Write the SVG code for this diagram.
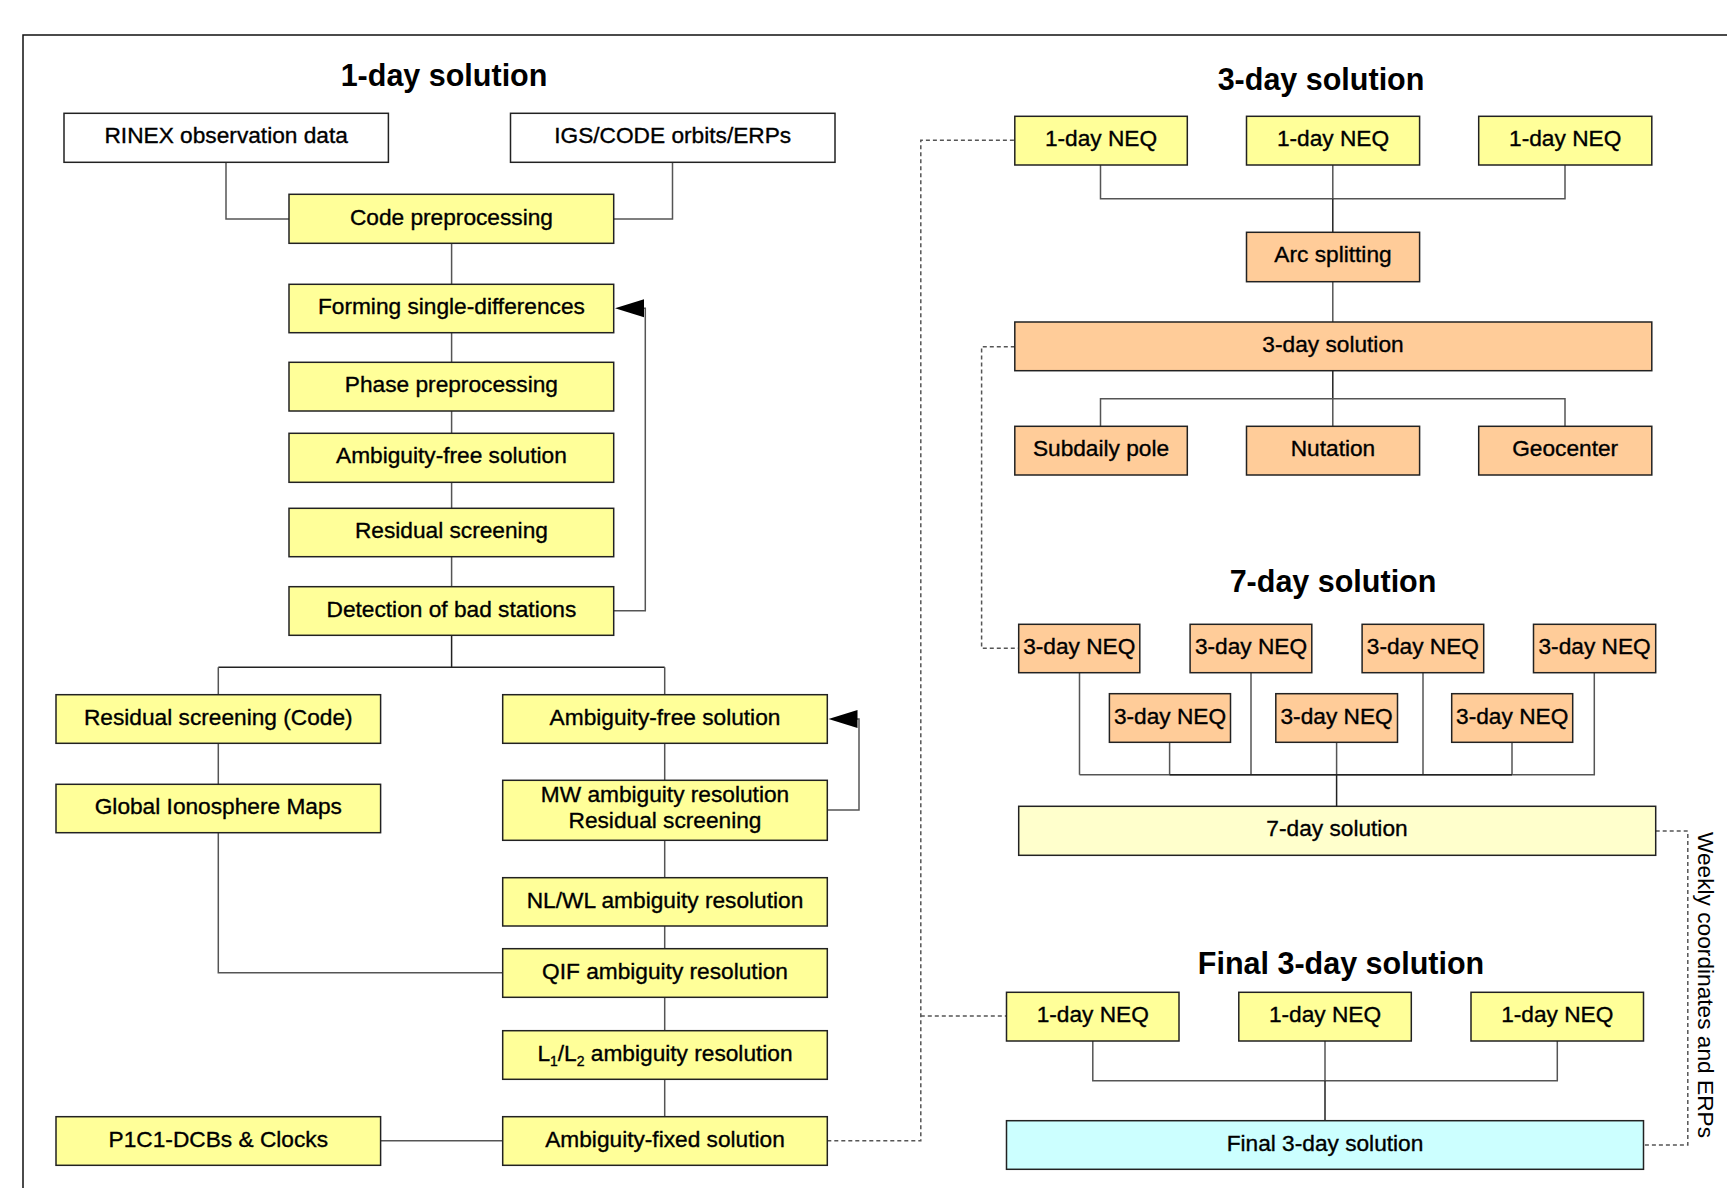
<svg xmlns="http://www.w3.org/2000/svg" width="1727" height="1188" viewBox="0 0 1727 1188">
<defs>
<style>
.y{fill:#FFFF99;stroke:#222;stroke-width:1.5}
.o{fill:#FFCC99;stroke:#222;stroke-width:1.5}
.w{fill:#FFFFFF;stroke:#222;stroke-width:1.5}
.ly{fill:#FFFFCC;stroke:#222;stroke-width:1.5}
.c{fill:#CCFFFF;stroke:#222;stroke-width:1.5}
text{font-family:"Liberation Sans",Arial,sans-serif;fill:#000}
.t{font-size:22.7px;text-anchor:middle;stroke:#000;stroke-width:0.35}
.v{font-size:22.7px;text-anchor:middle}
.h{font-size:30.5px;font-weight:bold;text-anchor:middle}
.ln{fill:none;stroke:#555;stroke-width:1.5}
.dk{fill:none;stroke:#222;stroke-width:1.5}
.dt{fill:none;stroke:#555;stroke-width:1.5;stroke-dasharray:4 3}
</style>
</defs>
<rect width="1727" height="1188" fill="#fff"/>
<path d="M23,1188 V35 H1727" fill="none" stroke="#111" stroke-width="1.5"/>

<text class="h" x="444" y="86">1-day solution</text>
<text class="h" x="1321" y="89.5">3-day solution</text>
<text class="h" x="1333" y="592">7-day solution</text>
<text class="h" x="1341" y="974">Final 3-day solution</text>

<g id="connectors">
<path class="ln" d="M226,162 V219 H289 M672.5,162 V219 H614"/>
<path class="ln" d="M451.6,243.3 V284.3 M451.6,332.7 V362.3 M451.6,411 V433.3 M451.6,482.3 V508.3 M451.6,556.7 V586.7"/>
<path class="dk" d="M451.6,635.3 V667.3 M218.3,667.3 H664.7"/>
<path class="ln" d="M218.3,667.3 V694.7 M664.7,667.3 V694.7"/>
<path class="ln" d="M614,610.7 H645.3 V308.3 H643"/>
<polygon points="615,308.3 644,299.3 644,317.3" fill="#000"/>
<path class="ln" d="M218.3,743.3 V784.3 M218.3,832.7 V972.7 H502.7 M380.6,1140.7 H502.7"/>
<path class="ln" d="M664.7,743.3 V780.3 M664.7,840.3 V877.7 M664.7,926 V948.7 M664.7,997.3 V1030.7 M664.7,1079.3 V1116.7"/>
<path class="ln" d="M827.3,810 H859 V719 H857"/>
<polygon points="828.5,719 857.5,710 857.5,728" fill="#000"/>
<path class="dt" d="M827.3,1140.7 H920.8 V140.3 H1014.8 M920.8,1016 H1006.5"/>
<path class="dt" d="M1014.8,346.7 H981.6 V648.3 H1018.7"/>
<path class="dt" d="M1655.7,831 H1687.8 V1145 H1643.5"/>
<path class="ln" d="M1100.5,165 V198.7 H1565 V165 M1332.8,165 V198.7"/>
<path class="dk" d="M1332.8,198.7 V232.3"/>
<path class="ln" d="M1332.8,281.7 V322"/>
<path class="dk" d="M1332.8,370.7 V398.7"/>
<path class="ln" d="M1100.5,426.3 V398.7 H1565 V426.3 M1332.8,398.7 V426.3"/>
<path class="ln" d="M1079.5,672.7 V774.7 M1251,672.7 V774.7 M1423,672.7 V774.7 M1594.3,672.7 V774.7 H1079.5 M1169.6,742.3 V774.7 M1336.6,742.3 V774.7 M1512,742.3 V774.7"/>
<path class="dk" d="M1169.6,774.7 H1512 M1336.6,774.7 V806.3"/>
<path class="ln" d="M1092.8,1041 V1080.7 H1557.3 V1041 M1325,1041 V1080.7"/>
<path class="dk" d="M1325,1080.7 V1120.7"/>
</g>

<g id="n-rinex"><rect class="w" x="64" y="113.3" width="324.4" height="49"/><text class="t" x="226.2" y="143">RINEX observation data</text></g>
<g id="n-igs"><rect class="w" x="510.5" y="113.3" width="324.5" height="49"/><text class="t" x="672.7" y="143">IGS/CODE orbits/ERPs</text></g>
<g id="n-code"><rect class="y" x="289" y="194.3" width="324.7" height="49"/><text class="t" x="451.4" y="224.5">Code preprocessing</text></g>
<g id="n-sd"><rect class="y" x="289" y="284.3" width="324.7" height="48.4"/><text class="t" x="451.4" y="314">Forming single-differences</text></g>
<g id="n-phase"><rect class="y" x="289" y="362.3" width="324.7" height="48.7"/><text class="t" x="451.4" y="392.2">Phase preprocessing</text></g>
<g id="n-af1"><rect class="y" x="289" y="433.3" width="324.7" height="49"/><text class="t" x="451.4" y="463.2">Ambiguity-free solution</text></g>
<g id="n-rs"><rect class="y" x="289" y="508.3" width="324.7" height="48.4"/><text class="t" x="451.4" y="538">Residual screening</text></g>
<g id="n-det"><rect class="y" x="289" y="586.7" width="324.7" height="48.6"/><text class="t" x="451.4" y="616.5">Detection of bad stations</text></g>
<g id="n-rsc"><rect class="y" x="56" y="694.7" width="324.6" height="48.6"/><text class="t" x="218.3" y="724.5">Residual screening (Code)</text></g>
<g id="n-gim"><rect class="y" x="56" y="784.3" width="324.6" height="48.4"/><text class="t" x="218.3" y="814">Global Ionosphere Maps</text></g>
<g id="n-p1c1"><rect class="y" x="56" y="1116.7" width="324.6" height="48.6"/><text class="t" x="218.3" y="1146.5">P1C1-DCBs &amp; Clocks</text></g>
<g id="n-af2"><rect class="y" x="502.7" y="694.7" width="324.6" height="48.6"/><text class="t" x="665" y="724.5">Ambiguity-free solution</text></g>
<g id="n-mw"><rect class="y" x="502.7" y="780.3" width="324.6" height="60"/><text class="t" x="665" y="802">MW ambiguity resolution</text><text class="t" x="665" y="827.5">Residual screening</text></g>
<g id="n-nlwl"><rect class="y" x="502.7" y="877.7" width="324.6" height="48.3"/><text class="t" x="665" y="907.5">NL/WL ambiguity resolution</text></g>
<g id="n-qif"><rect class="y" x="502.7" y="948.7" width="324.6" height="48.6"/><text class="t" x="665" y="978.5">QIF ambiguity resolution</text></g>
<g id="n-l1l2"><rect class="y" x="502.7" y="1030.7" width="324.6" height="48.6"/><text class="t" x="665" y="1060.5">L<tspan font-size="14" dy="5">1</tspan><tspan dy="-5">/L</tspan><tspan font-size="14" dy="5">2</tspan><tspan dy="-5"> ambiguity resolution</tspan></text></g>
<g id="n-afix"><rect class="y" x="502.7" y="1116.7" width="324.6" height="48.6"/><text class="t" x="665" y="1146.5">Ambiguity-fixed solution</text></g>

<g id="n-neq1a"><rect class="y" x="1014.8" y="116.3" width="172.5" height="48.7"/><text class="t" x="1101" y="146.2">1-day NEQ</text></g>
<g id="n-neq1b"><rect class="y" x="1246.5" y="116.3" width="173.1" height="48.7"/><text class="t" x="1333" y="146.2">1-day NEQ</text></g>
<g id="n-neq1c"><rect class="y" x="1478.7" y="116.3" width="173.1" height="48.7"/><text class="t" x="1565.2" y="146.2">1-day NEQ</text></g>
<g id="n-arc"><rect class="o" x="1246.5" y="232.3" width="173.1" height="49.4"/><text class="t" x="1333" y="262.4">Arc splitting</text></g>
<g id="n-3sol"><rect class="o" x="1014.8" y="322" width="637" height="48.7"/><text class="t" x="1333" y="351.8">3-day solution</text></g>
<g id="n-sub"><rect class="o" x="1014.8" y="426.3" width="172.5" height="48.7"/><text class="t" x="1101" y="456.2">Subdaily pole</text></g>
<g id="n-nut"><rect class="o" x="1246.5" y="426.3" width="173.1" height="48.7"/><text class="t" x="1333" y="456.2">Nutation</text></g>
<g id="n-geo"><rect class="o" x="1478.7" y="426.3" width="173.1" height="48.7"/><text class="t" x="1565.2" y="456.2">Geocenter</text></g>

<g id="n-neq3a"><rect class="o" x="1018.7" y="624.3" width="121.1" height="48.4"/><text class="t" x="1079.3" y="654">3-day NEQ</text></g>
<g id="n-neq3b"><rect class="o" x="1190.1" y="624.3" width="121.7" height="48.4"/><text class="t" x="1251" y="654">3-day NEQ</text></g>
<g id="n-neq3c"><rect class="o" x="1362.1" y="624.3" width="121.6" height="48.4"/><text class="t" x="1422.9" y="654">3-day NEQ</text></g>
<g id="n-neq3d"><rect class="o" x="1533.5" y="624.3" width="122.2" height="48.4"/><text class="t" x="1594.6" y="654">3-day NEQ</text></g>
<g id="n-neq3e"><rect class="o" x="1109.4" y="693.7" width="121.1" height="48.6"/><text class="t" x="1170" y="723.5">3-day NEQ</text></g>
<g id="n-neq3f"><rect class="o" x="1275.8" y="693.7" width="121.7" height="48.6"/><text class="t" x="1336.6" y="723.5">3-day NEQ</text></g>
<g id="n-neq3g"><rect class="o" x="1451.7" y="693.7" width="121" height="48.6"/><text class="t" x="1512.2" y="723.5">3-day NEQ</text></g>
<g id="n-7sol"><rect class="ly" x="1018.7" y="806.3" width="637" height="49"/><text class="t" x="1337" y="836">7-day solution</text></g>

<g id="n-neqfa"><rect class="y" x="1006.5" y="992.3" width="172.5" height="48.7"/><text class="t" x="1092.8" y="1022.2">1-day NEQ</text></g>
<g id="n-neqfb"><rect class="y" x="1238.8" y="992.3" width="172.5" height="48.7"/><text class="t" x="1325" y="1022.2">1-day NEQ</text></g>
<g id="n-neqfc"><rect class="y" x="1471" y="992.3" width="172.5" height="48.7"/><text class="t" x="1557.3" y="1022.2">1-day NEQ</text></g>
<g id="n-final"><rect class="c" x="1006.5" y="1120.7" width="637" height="48.6"/><text class="t" x="1325" y="1150.5">Final 3-day solution</text></g>

<g id="n-weekly"><text class="v" transform="translate(1697.5,985) rotate(90)" x="0" y="0">Weekly coordinates and ERPs</text></g>
</svg>
